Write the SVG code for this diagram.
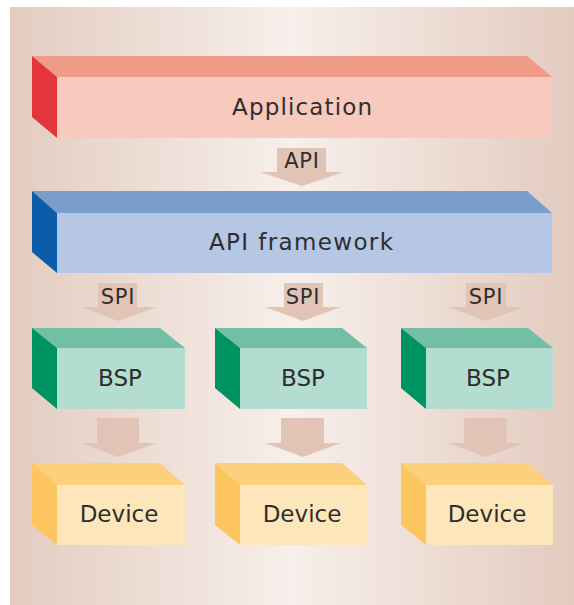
<svg xmlns="http://www.w3.org/2000/svg" width="574" height="605" viewBox="0 0 574 605">
<defs>
<linearGradient id="bg" x1="0" y1="0" x2="1" y2="0">
<stop offset="0" stop-color="#e3ccc0"/>
<stop offset="0.5" stop-color="#f7efeb"/>
<stop offset="1" stop-color="#e3cbbf"/>
</linearGradient>
</defs>
<style>
text{font-family:"DejaVu Sans","Liberation Sans",sans-serif;fill:#2e2e2e;text-anchor:middle}
.big{font-size:23px}
.lbl{font-size:21px;letter-spacing:0.8px}
.arrow{fill:#e1c4b6}
.app-top{fill:#f09a88}.app-front{fill:#f8c9bd}.app-side{fill:#e2353c}
.fw-top{fill:#7b9dcb}.fw-front{fill:#b5c7e5}.fw-side{fill:#0b5ca9}
.bsp-top{fill:#72bfa6}.bsp-front{fill:#b4ddd1}.bsp-side{fill:#009362}
.dev-top{fill:#fdd07e}.dev-front{fill:#fee6bb}.dev-side{fill:#fdc55e}
</style>
<rect x="10" y="7" width="564" height="598" fill="url(#bg)"/>

<g id="application">
<polygon class="app-top" points="32,56 527,56 552,77 57,77"/>
<rect class="app-front" x="57" y="77" width="495" height="61"/>
<polygon class="app-side" points="32,56 57,77 57,138 32,117"/>
<text class="big" x="302" y="115" textLength="140" lengthAdjust="spacing">Application</text>
</g>

<g id="api-framework">
<polygon class="fw-top" points="32,191 527,191 552,213 57,213"/>
<rect class="fw-front" x="57" y="213" width="495" height="60"/>
<polygon class="fw-side" points="32,191 57,213 57,273 32,252"/>
<text class="big" x="301" y="250" textLength="184" lengthAdjust="spacing">API framework</text>
</g>

<g id="bsp1">
<polygon class="bsp-top" points="32,328 160,328 185,348 57,348"/>
<rect class="bsp-front" x="57" y="348" width="128" height="61"/>
<polygon class="bsp-side" points="32,328 57,348 57,409 32,388"/>
<text class="big" x="120" y="386">BSP</text>
</g>
<g id="bsp2">
<polygon class="bsp-top" points="215,328 342,328 367,348 240,348"/>
<rect class="bsp-front" x="240" y="348" width="127" height="61"/>
<polygon class="bsp-side" points="215,328 240,348 240,409 215,388"/>
<text class="big" x="303" y="386">BSP</text>
</g>
<g id="bsp3">
<polygon class="bsp-top" points="401,328 528,328 553,348 426,348"/>
<rect class="bsp-front" x="426" y="348" width="127" height="61"/>
<polygon class="bsp-side" points="401,328 426,348 426,409 401,388"/>
<text class="big" x="488" y="386">BSP</text>
</g>

<g id="device1">
<polygon class="dev-top" points="32,463 160,463 185,485 57,485"/>
<rect class="dev-front" x="57" y="485" width="128" height="60"/>
<polygon class="dev-side" points="32,463 57,485 57,545 32,525"/>
<text class="big" x="119" y="522">Device</text>
</g>
<g id="device2">
<polygon class="dev-top" points="215,463 342,463 367,485 240,485"/>
<rect class="dev-front" x="240" y="485" width="127" height="60"/>
<polygon class="dev-side" points="215,463 240,485 240,545 215,525"/>
<text class="big" x="302" y="522">Device</text>
</g>
<g id="device3">
<polygon class="dev-top" points="401,463 528,463 553,485 426,485"/>
<rect class="dev-front" x="426" y="485" width="127" height="60"/>
<polygon class="dev-side" points="401,463 426,485 426,545 401,525"/>
<text class="big" x="487" y="522">Device</text>
</g>

<g id="connectors">
<polygon class="arrow" points="277,148 326,148 326,172 344,172 302,186 260,172 277,172"/>
<text class="lbl" x="302" y="168">API</text>

<polygon class="arrow" points="98,283 137,283 137,307 157,307 118,321 82,307 98,307"/>
<text class="lbl" x="118" y="304">SPI</text>
<polygon class="arrow" points="284,283 323,283 323,307 341,307 303,321 265,307 284,307"/>
<text class="lbl" x="303" y="304">SPI</text>
<polygon class="arrow" points="466,283 506,283 506,307 523,307 486,321 448,307 466,307"/>
<text class="lbl" x="486" y="304">SPI</text>

<polygon class="arrow" points="97,418 139,418 139,443 157,443 118,457 82,443 97,443"/>
<polygon class="arrow" points="281,418 324,418 324,443 341,443 303,457 265,443 281,443"/>
<polygon class="arrow" points="464,418 507,418 507,443 524,443 486,457 448,443 464,443"/>
</g>
</svg>
